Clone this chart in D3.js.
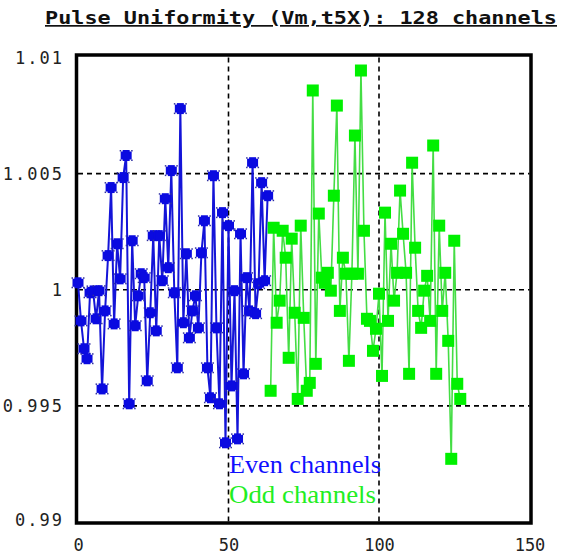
<!DOCTYPE html>
<html><head><meta charset="utf-8">
<script src="https://cdn.jsdelivr.net/npm/d3@7"></script>
<style>body{margin:0;background:#fff}svg{display:block}</style>
</head><body>
<script>
const title = "Pulse Uniformity (Vm,t5X): 128 channels";
const xTicks = [0, 50, 100, 150];
const yTicks = [0.99, 0.995, 1, 1.005, 1.01];
const yTickLabels = ["0.99", "0.995", "1", "1.005", "1.01"];
const legendLabels = ["Even channels", "Odd channels"];
const evenX = d3.range(0, 64);
const evenValues = [1.00030,0.99866,0.99746,0.99703,0.99987,0.99995,0.99875,0.99996,0.99573,0.99909,
 1.00147,1.00440,0.99853,1.00198,1.00047,1.00483,1.00578,0.99509,1.00211,0.99845,
 0.99974,1.00069,1.00052,0.99608,0.99901,1.00233,0.99823,1.00233,1.00039,1.00392,
 1.00095,1.00513,0.99987,0.99664,1.00780,0.99858,1.00155,0.99793,0.99909,0.99974,
 0.99836,1.00159,1.00297,0.99664,0.99535,1.00491,0.99836,0.99509,1.00332,0.99341,
 1.00276,0.99586,0.99996,0.99358,1.00241,0.99638,1.00052,0.99909,1.00547,0.99897,
 1.00026,1.00461,1.00039,1.00405];
const oddX = d3.range(64, 128);
const oddValues = [0.99565,1.00267,0.99858,0.99953,1.00254,1.00138,0.99707,1.00220,0.99901,0.99530,
 1.00276,0.99879,0.99565,0.99599,1.00858,0.99681,1.00328,1.00052,1.00030,1.00073,
 0.99996,1.00405,1.00793,0.99909,1.00138,1.00069,0.99694,1.00069,1.00664,1.00069,
 1.00944,1.00254,0.99875,0.99866,0.99737,0.99832,0.99983,0.99629,1.00332,0.99866,
 1.00198,0.99953,1.00073,1.00427,1.00241,1.00073,0.99638,1.00547,1.00181,0.99909,
 0.99836,0.99996,1.00060,0.99866,1.00621,0.99638,1.00276,0.99909,1.00073,0.99780,
 0.99272,1.00211,0.99595,0.99530];

const W = 568, H = 554;
const svg = d3.select("body").append("svg").attr("width", W).attr("height", H);
const x = d3.scaleLinear().domain([0, 150]).range([78, 529.5]);
const y = d3.scaleLinear().domain([0.99, 1.01]).range([522, 57.5]);

// title
svg.append("text").attr("x", 45).attr("y", 24)
  .attr("font-family", "DejaVu Sans Mono").attr("font-weight", "bold").attr("font-size", 17)
  .attr("textLength", 512).attr("lengthAdjust", "spacingAndGlyphs")
  .attr("text-decoration", "underline").attr("fill", "#111").text(title);

// grid
const grid = svg.append("g").attr("stroke", "#000").attr("stroke-width", 1.6).attr("stroke-dasharray", "5,4");
grid.selectAll("line.v").data(xTicks.filter(d => d > 0 && d < 150)).join("line")
  .attr("x1", d => x(d)).attr("x2", d => x(d)).attr("y1", y(1.01)).attr("y2", y(0.99));
grid.selectAll("line.h").data(yTicks.filter(d => d > 0.99 && d < 1.01)).join("line")
  .attr("x1", x(0)).attr("x2", x(150)).attr("y1", d => y(d)).attr("y2", d => y(d));

// frame
svg.append("rect").attr("x", 76.5).attr("y", 55).attr("width", 454.5).attr("height", 468)
  .attr("fill", "none").attr("stroke", "#000").attr("stroke-width", 3.5);

// axes labels
const yAxis = d3.axisLeft(y).tickValues(yTicks).tickFormat((d, i) => yTickLabels[i]).tickSize(0).tickPadding(14);
const ya = svg.append("g").attr("transform", "translate(78,0)").call(yAxis);
ya.select(".domain").remove();
ya.selectAll("text").attr("font-family", "DejaVu Sans Mono").attr("font-size", 17)
  .attr("letter-spacing", "2px").attr("fill", "#222").attr("dy", "0.35em");
ya.selectAll(".tick").filter(d => d === 0.99).select("text").attr("dy", "0.2em");
const xAxis = d3.axisBottom(x).tickValues(xTicks).tickFormat(d3.format("d")).tickSize(0).tickPadding(16);
const xa = svg.append("g").attr("transform", "translate(0,523)").call(xAxis);
xa.select(".domain").remove();
xa.selectAll("text").attr("font-family", "DejaVu Sans Mono").attr("font-size", 17).attr("fill", "#222");

// legend
svg.append("text").attr("x", 229).attr("y", 473).attr("font-family", "Liberation Serif")
  .attr("font-size", 26).attr("textLength", 152).attr("lengthAdjust", "spacingAndGlyphs")
  .attr("fill", "#1010ff").text(legendLabels[0]);
svg.append("text").attr("x", 229).attr("y", 503).attr("font-family", "Liberation Serif")
  .attr("font-size", 26).attr("textLength", 147).attr("lengthAdjust", "spacingAndGlyphs")
  .attr("fill", "#22ee22").text(legendLabels[1]);

// even series
const evenData = evenX.map((d, i) => [d, evenValues[i]]);
const oddData = oddX.map((d, i) => [d, oddValues[i]]);
const line = d3.line().x(d => x(d[0])).y(d => y(d[1]));
svg.append("path").datum(evenData).attr("d", line).attr("fill", "none")
  .attr("stroke", "#1414d8").attr("stroke-width", 2);
const em = svg.append("g").selectAll("g").data(evenData).join("g")
  .attr("transform", d => `translate(${x(d[0])},${y(d[1])})`).attr("fill", "#0a0ae0");
em.append("rect").attr("x", -5.5).attr("y", -4).attr("width", 11).attr("height", 8);
em.append("rect").attr("x", -3.5).attr("y", -5.5).attr("width", 7).attr("height", 11);
[[-6.5,-5.5],[5,-5.5],[-6.5,4],[5,4]].forEach(p => {
  em.append("rect").attr("x", p[0]).attr("y", p[1]).attr("width", 1.5).attr("height", 1.5).attr("fill", "#3030a0");
});

// odd series
svg.append("path").datum(oddData).attr("d", line).attr("fill", "none")
  .attr("stroke", "#44dd44").attr("stroke-width", 1.6);
svg.append("g").selectAll("rect").data(oddData).join("rect")
  .attr("x", d => x(d[0]) - 6).attr("y", d => y(d[1]) - 6).attr("width", 12).attr("height", 12)
  .attr("fill", "#00f000");
</script>
</body></html>
